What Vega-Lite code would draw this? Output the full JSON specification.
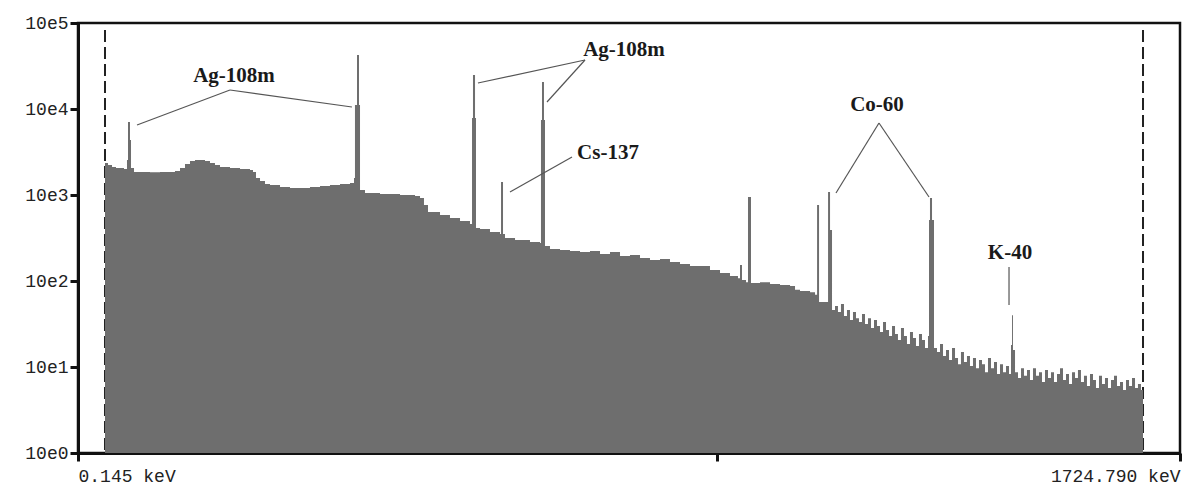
{
  "$schema": "https://vega.github.io/schema/vega-lite/v6.json",
  "width": 1102,
  "height": 430,
  "autosize": "none",
  "padding": {"left": 78, "top": 23, "right": 5, "bottom": 36},
  "background": "white",
  "config": {
    "view": {"stroke": "#111111", "strokeWidth": 2.5},
    "axis": {"grid": false, "domainColor": "#111111", "domainWidth": 3, "tickColor": "#111111", "tickWidth": 3, "labelColor": "#222222", "labelFont": "Liberation Mono", "labelFontSize": 18, "title": null}
  },
  "datasets": {
    "spectrum": [
      {"keV": 42.4, "counts": 2355}, {"keV": 47.1, "counts": 2233}, {"keV": 53.4, "counts": 2117}, {"keV": 59.6, "counts": 2061}, {"keV": 65.9, "counts": 2061}, {"keV": 72.1, "counts": 2006},
      {"keV": 76.8, "counts": 2553}, {"keV": 78.4, "counts": 7060}, {"keV": 81.5, "counts": 4365}, {"keV": 83.1, "counts": 2061}, {"keV": 87.8, "counts": 1850},
      {"keV": 97.2, "counts": 1850}, {"keV": 112.8, "counts": 1840}, {"keV": 128.5, "counts": 1850}, {"keV": 144.1, "counts": 1850}, {"keV": 151.9, "counts": 1901},
      {"keV": 159.8, "counts": 2061}, {"keV": 167.6, "counts": 2293}, {"keV": 175.4, "counts": 2485}, {"keV": 183.2, "counts": 2553}, {"keV": 191.1, "counts": 2553},
      {"keV": 198.9, "counts": 2485}, {"keV": 206.7, "counts": 2355}, {"keV": 214.5, "counts": 2233}, {"keV": 222.4, "counts": 2117}, {"keV": 238.0, "counts": 2061},
      {"keV": 253.7, "counts": 2006}, {"keV": 269.3, "counts": 1953}, {"keV": 274.0, "counts": 1850}, {"keV": 278.7, "counts": 1577}, {"keV": 285.0, "counts": 1455},
      {"keV": 292.8, "counts": 1343}, {"keV": 300.6, "counts": 1307}, {"keV": 316.3, "counts": 1239}, {"keV": 331.9, "counts": 1206}, {"keV": 347.6, "counts": 1206},
      {"keV": 363.2, "counts": 1239}, {"keV": 378.9, "counts": 1273}, {"keV": 394.5, "counts": 1307}, {"keV": 410.2, "counts": 1343}, {"keV": 425.8, "counts": 1379},
      {"keV": 432.1, "counts": 1577}, {"keV": 433.6, "counts": 11130}, {"keV": 436.8, "counts": 42500}, {"keV": 439.9, "counts": 11130}, {"keV": 441.5, "counts": 1143},
      {"keV": 449.3, "counts": 1055}, {"keV": 472.8, "counts": 1027}, {"keV": 504.1, "counts": 1000}, {"keV": 527.6, "counts": 973}, {"keV": 535.4, "counts": 923},
      {"keV": 541.6, "counts": 765}, {"keV": 547.9, "counts": 634}, {"keV": 566.7, "counts": 585}, {"keV": 582.3, "counts": 540}, {"keV": 598.0, "counts": 499},
      {"keV": 613.6, "counts": 460}, {"keV": 616.8, "counts": 7860}, {"keV": 618.3, "counts": 24850}, {"keV": 621.5, "counts": 7860}, {"keV": 623.0, "counts": 413},
      {"keV": 629.3, "counts": 402}, {"keV": 644.9, "counts": 371}, {"keV": 660.6, "counts": 352}, {"keV": 662.2, "counts": 1417}, {"keV": 665.3, "counts": 352},
      {"keV": 668.4, "counts": 316}, {"keV": 684.1, "counts": 300}, {"keV": 707.5, "counts": 284}, {"keV": 723.2, "counts": 277}, {"keV": 724.7, "counts": 7450},
      {"keV": 726.3, "counts": 20600}, {"keV": 729.4, "counts": 7450}, {"keV": 731.0, "counts": 255}, {"keV": 738.8, "counts": 236}, {"keV": 754.5, "counts": 229},
      {"keV": 770.1, "counts": 223}, {"keV": 785.8, "counts": 217}, {"keV": 801.4, "counts": 223}, {"keV": 817.1, "counts": 206}, {"keV": 832.7, "counts": 217},
      {"keV": 848.4, "counts": 195}, {"keV": 864.0, "counts": 201}, {"keV": 879.7, "counts": 185}, {"keV": 895.3, "counts": 175}, {"keV": 911.0, "counts": 180},
      {"keV": 926.6, "counts": 166}, {"keV": 942.3, "counts": 158}, {"keV": 957.9, "counts": 149}, {"keV": 973.6, "counts": 149}, {"keV": 989.2, "counts": 134},
      {"keV": 1004.9, "counts": 124}, {"keV": 1020.5, "counts": 114}, {"keV": 1033.0, "counts": 108}, {"keV": 1036.2, "counts": 153}, {"keV": 1039.3, "counts": 103},
      {"keV": 1045.6, "counts": 97}, {"keV": 1048.7, "counts": 948}, {"keV": 1053.4, "counts": 95}, {"keV": 1067.5, "counts": 97}, {"keV": 1083.2, "counts": 92},
      {"keV": 1098.8, "counts": 90}, {"keV": 1114.5, "counts": 87.5}, {"keV": 1122.3, "counts": 79}, {"keV": 1130.1, "counts": 76.5}, {"keV": 1145.8, "counts": 74},
      {"keV": 1153.6, "counts": 69}, {"keV": 1156.8, "counts": 765}, {"keV": 1159.9, "counts": 57}, {"keV": 1170.8, "counts": 57}, {"keV": 1174.0, "counts": 1083},
      {"keV": 1177.1, "counts": 392}, {"keV": 1180.2, "counts": 46},
      {"keV": 1184.9, "counts": 51.2}, {"keV": 1189.5, "counts": 43.6}, {"keV": 1194.2, "counts": 54}, {"keV": 1198.9, "counts": 39.2}, {"keV": 1203.6, "counts": 46},
      {"keV": 1208.3, "counts": 35.2}, {"keV": 1213.0, "counts": 43.6}, {"keV": 1217.7, "counts": 37}, {"keV": 1222.4, "counts": 33.4}, {"keV": 1227.1, "counts": 41.3},
      {"keV": 1231.8, "counts": 31.6}, {"keV": 1236.5, "counts": 37}, {"keV": 1241.2, "counts": 28.4}, {"keV": 1245.9, "counts": 35.2}, {"keV": 1250.6, "counts": 30},
      {"keV": 1255.3, "counts": 25.5}, {"keV": 1260.0, "counts": 33.4}, {"keV": 1264.7, "counts": 27}, {"keV": 1269.4, "counts": 22.9}, {"keV": 1274.1, "counts": 30},
      {"keV": 1278.8, "counts": 24.2}, {"keV": 1283.4, "counts": 20.6}, {"keV": 1288.1, "counts": 28.4}, {"keV": 1292.8, "counts": 22.9}, {"keV": 1297.5, "counts": 18.5},
      {"keV": 1302.2, "counts": 25.5}, {"keV": 1306.9, "counts": 21.7}, {"keV": 1311.6, "counts": 17.5}, {"keV": 1316.3, "counts": 24.2}, {"keV": 1321.0, "counts": 20.6},
      {"keV": 1325.7, "counts": 16.6}, {"keV": 1330.4, "counts": 22.9}, {"keV": 1332.0, "counts": 512}, {"keV": 1333.5, "counts": 923}, {"keV": 1336.7, "counts": 512},
      {"keV": 1339.8, "counts": 16.6}, {"keV": 1344.5, "counts": 14.9}, {"keV": 1349.2, "counts": 18.5}, {"keV": 1353.9, "counts": 13.4}, {"keV": 1358.6, "counts": 15.8},
      {"keV": 1363.3, "counts": 12.1}, {"keV": 1368.0, "counts": 16.6}, {"keV": 1372.7, "counts": 12.7}, {"keV": 1377.4, "counts": 10.8}, {"keV": 1382.0, "counts": 14.9},
      {"keV": 1386.7, "counts": 11.4}, {"keV": 1391.4, "counts": 13.4}, {"keV": 1396.1, "counts": 10.3}, {"keV": 1400.8, "counts": 12.7}, {"keV": 1405.5, "counts": 9.7},
      {"keV": 1410.2, "counts": 12.1}, {"keV": 1414.9, "counts": 10.8}, {"keV": 1419.6, "counts": 8.7}, {"keV": 1424.3, "counts": 12.7}, {"keV": 1429.0, "counts": 9.7},
      {"keV": 1433.7, "counts": 11.4}, {"keV": 1438.4, "counts": 8.3}, {"keV": 1443.1, "counts": 10.8}, {"keV": 1447.8, "counts": 8.7}, {"keV": 1452.5, "counts": 10.3},
      {"keV": 1457.2, "counts": 8.3}, {"keV": 1460.3, "counts": 18}, {"keV": 1461.9, "counts": 40}, {"keV": 1463.4, "counts": 15.8}, {"keV": 1466.6, "counts": 8.7},
      {"keV": 1471.3, "counts": 7.45}, {"keV": 1476.0, "counts": 9.7}, {"keV": 1480.6, "counts": 7.9}, {"keV": 1485.3, "counts": 9.2}, {"keV": 1490.0, "counts": 7.06},
      {"keV": 1494.7, "counts": 9.7}, {"keV": 1499.4, "counts": 7.9}, {"keV": 1504.1, "counts": 8.7}, {"keV": 1508.8, "counts": 6.7}, {"keV": 1513.5, "counts": 9.2},
      {"keV": 1518.2, "counts": 7.45}, {"keV": 1522.9, "counts": 8.7}, {"keV": 1527.6, "counts": 6.7}, {"keV": 1532.3, "counts": 8.3}, {"keV": 1537.0, "counts": 9.7},
      {"keV": 1541.7, "counts": 7.06}, {"keV": 1546.4, "counts": 8.3}, {"keV": 1551.1, "counts": 6.35}, {"keV": 1555.8, "counts": 8.7}, {"keV": 1560.5, "counts": 7.45},
      {"keV": 1565.1, "counts": 9.2}, {"keV": 1569.8, "counts": 6.7}, {"keV": 1574.5, "counts": 7.9}, {"keV": 1579.2, "counts": 6.0}, {"keV": 1583.9, "counts": 8.3},
      {"keV": 1588.6, "counts": 7.06}, {"keV": 1593.3, "counts": 5.7}, {"keV": 1598.0, "counts": 7.9}, {"keV": 1602.7, "counts": 6.35}, {"keV": 1607.4, "counts": 7.45},
      {"keV": 1612.1, "counts": 5.7}, {"keV": 1616.8, "counts": 7.06}, {"keV": 1621.5, "counts": 7.9}, {"keV": 1626.2, "counts": 6.0}, {"keV": 1630.9, "counts": 6.7},
      {"keV": 1635.6, "counts": 5.4}, {"keV": 1640.3, "counts": 7.06}, {"keV": 1645.0, "counts": 6.0}, {"keV": 1649.7, "counts": 7.45}, {"keV": 1654.4, "counts": 5.7},
      {"keV": 1659.0, "counts": 6.35}, {"keV": 1663.7, "counts": 5.4}, {"keV": 1666.9, "counts": 5.4}
    ],
    "markers": [
      {"keV": 42.4, "top": 82900, "bottom": 1},
      {"keV": 1666.9, "top": 82900, "bottom": 1}
    ],
    "leaders": [
      {"e1": 238.0, "c1": 16630, "e2": 92.5, "c2": 6515},
      {"e1": 238.0, "c1": 16630, "e2": 428.9, "c2": 10550},
      {"e1": 793.6, "c1": 37150, "e2": 626.1, "c2": 20060},
      {"e1": 793.6, "c1": 37150, "e2": 734.1, "c2": 12060},
      {"e1": 773.3, "c1": 2767, "e2": 676.2, "c2": 1083},
      {"e1": 1253.7, "c1": 6872, "e2": 1186.4, "c2": 1055},
      {"e1": 1253.7, "c1": 6872, "e2": 1332.0, "c2": 948},
      {"e1": 1457.2, "c1": 145.5, "e2": 1457.2, "c2": 52.6}
    ],
    "labels": [
      {"label": "Ag-108m", "keV": 244.3, "counts": 24200},
      {"label": "Ag-108m", "keV": 854.6, "counts": 48550},
      {"label": "Cs-137", "keV": 829.6, "counts": 3078},
      {"label": "Co-60", "keV": 1250.6, "counts": 11130},
      {"label": "K-40", "keV": 1458.7, "counts": 212}
    ]
  },
  "layer": [
    {
      "data": {"name": "markers"},
      "mark": {"type": "rule", "color": "#222222", "strokeWidth": 2, "strokeDash": [12, 5]},
      "encoding": {
        "x": {"field": "keV", "type": "quantitative", "scale": {"domain": [0.145, 1724.79], "nice": false, "zero": false}},
        "y": {"field": "top", "type": "quantitative", "scale": {"type": "log", "domain": [1, 100000], "nice": false}},
        "y2": {"field": "bottom"}
      }
    },
    {
      "data": {"name": "spectrum"},
      "mark": {"type": "area", "interpolate": "step-after", "color": "#6e6e6e"},
      "encoding": {
        "x": {"field": "keV", "type": "quantitative", "scale": {"domain": [0.145, 1724.79], "nice": false, "zero": false},
          "axis": {"values": [0.145, 1000, 1724.79], "labelExpr": "datum.value < 1 ? '0.145 keV' : (datum.value > 1700 ? '1724.790 keV' : '')", "labelFlush": true, "tickSize": 8, "labelPadding": 6}},
        "y": {"field": "counts", "type": "quantitative", "scale": {"type": "log", "domain": [1, 100000], "nice": false},
          "axis": {"values": [1, 10, 100, 1000, 10000, 100000], "labelExpr": "'10e' + round(log(datum.value) / LN10)", "tickSize": 8, "labelPadding": 2}},
        "y2": {"datum": 1}
      }
    },
    {
      "data": {"name": "leaders"},
      "mark": {"type": "rule", "color": "#555555", "strokeWidth": 1.2},
      "encoding": {
        "x": {"field": "e1", "type": "quantitative"},
        "y": {"field": "c1", "type": "quantitative"},
        "x2": {"field": "e2"},
        "y2": {"field": "c2"}
      }
    },
    {
      "data": {"name": "labels"},
      "mark": {"type": "text", "font": "Liberation Serif", "fontWeight": "bold", "fontSize": 21, "color": "#1a1a1a", "align": "center", "baseline": "middle"},
      "encoding": {
        "x": {"field": "keV", "type": "quantitative"},
        "y": {"field": "counts", "type": "quantitative"},
        "text": {"field": "label"}
      }
    }
  ]
}
